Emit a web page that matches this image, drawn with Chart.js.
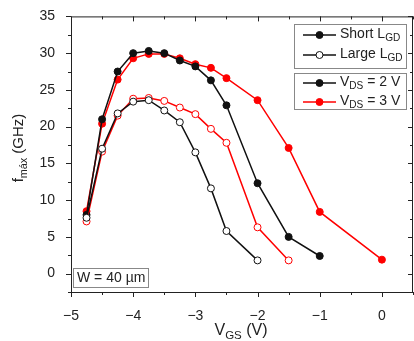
<!DOCTYPE html>
<html>
<head>
<meta charset="utf-8">
<script src="https://cdn.jsdelivr.net/npm/chart.js@4"></script>
<style>
  html, body { margin: 0; padding: 0; background: #fff; }
  #wrap { width: 414px; height: 341px; }
</style>
</head>
<body>
<div id="wrap"><canvas id="fmaxChart" width="414" height="341"></canvas></div>
<script>
// V_GS values (V)
const vgsShort2 = [-4.75, -4.5, -4.25, -4, -3.75, -3.5, -3.25, -3, -2.75, -2.5, -2, -1.5, -1];
const vgsShort3 = [-4.75, -4.5, -4.25, -4, -3.75, -3.5, -3.25, -3, -2.75, -2.5, -2, -1.5, -1, 0];
const vgsLarge2 = [-4.75, -4.5, -4.25, -4, -3.75, -3.5, -3.25, -3, -2.75, -2.5, -2];
const vgsLarge3 = [-4.75, -4.5, -4.25, -4, -3.75, -3.5, -3.25, -3, -2.75, -2.5, -2, -1.5];

// f_max values (GHz)
const fShort2 = [8.0, 21.0, 27.5, 30.0, 30.3, 30.0, 29.0, 28.2, 26.3, 22.9, 12.3, 5.0, 2.4];
const fShort3 = [8.5, 20.4, 26.4, 29.3, 29.9, 29.9, 29.3, 28.5, 28.0, 26.6, 23.6, 17.1, 8.4, 1.9];
const fLarge2 = [7.6, 17.0, 21.8, 23.4, 23.6, 22.2, 20.6, 16.5, 11.6, 5.8, 1.8];
const fLarge3 = [7.1, 16.6, 21.5, 23.8, 23.9, 23.5, 22.6, 21.7, 19.7, 17.8, 6.3, 1.8];

// axes
const xTicks = [-5, -4, -3, -2, -1, 0];
const xMinor = [-4.5, -3.5, -2.5, -1.5, -0.5, 0.5];
const yTicks = [0, 5, 10, 15, 20, 25, 30, 35];
const yMinor = [-2.5, 2.5, 7.5, 12.5, 17.5, 22.5, 27.5, 32.5];

const BLACK = "#111";
const RED = "#ff0000";
const FONT = "'Liberation Sans', Arial, sans-serif";

function pts(xs, ys) {
    return xs.map((x, i) => ({ x: x, y: ys[i] }));
}

function series(label, xs, ys, color, open) {
    return {
        label,
        data: pts(xs, ys),
        borderColor: color,
        backgroundColor: color,
        borderWidth: 1.5,
        pointRadius: 3.5,
        pointBorderWidth: 1,
        pointBackgroundColor: open ? "#fff" : color,
        pointBorderColor: color,
        tension: 0
    };
}

// draw text with subscripts: parts = [[text, isSub], ...]
function richText(ctx, parts, x, y, size, align) {
    ctx.textBaseline = "middle";
    ctx.textAlign = "left";
    let w = 0;
    parts.forEach(p => {
        ctx.font = (p[1] ? size * 0.72 : size) + "px " + FONT;
        w += ctx.measureText(p[0]).width;
    });
    let cx = align === "center" ? x - w / 2 : x;
    parts.forEach(p => {
        const s = p[1] ? size * 0.72 : size;
        ctx.font = s + "px " + FONT;
        ctx.fillText(p[0], cx, p[1] ? y + size * 0.32 : y);
        cx += ctx.measureText(p[0]).width;
    });
}

const decorations = {
    id: "decorations",
    afterDraw(chart) {
        const ctx = chart.ctx;
        const a = chart.chartArea;
        const xs = chart.scales.x, ys = chart.scales.y;
        ctx.save();

        // frame
        ctx.strokeStyle = "#222";
        ctx.lineWidth = 1;
        ctx.strokeRect(a.left + 0.5, a.top + 0.5, a.right - a.left - 1, a.bottom - a.top);

        // ticks (outward on bottom/left, inward on top/right)
        ctx.beginPath();
        const tick = (vals, len) => {
            vals.forEach(v => {
                const px = Math.round(xs.getPixelForValue(v)) + 0.5;
                if (px < a.left - 1 || px > a.right + 1) return;
                ctx.moveTo(px, a.bottom); ctx.lineTo(px, a.bottom + len);
                ctx.moveTo(px, a.top); ctx.lineTo(px, a.top + len);
            });
        };
        const tickY = (vals, len) => {
            vals.forEach(v => {
                const py = Math.round(ys.getPixelForValue(v)) + 0.5;
                ctx.moveTo(a.left, py); ctx.lineTo(a.left - len, py);
                ctx.moveTo(a.right, py); ctx.lineTo(a.right - len, py);
            });
        };
        tick(xTicks, 5); tick(xMinor, 3);
        tickY(yTicks, 5); tickY(yMinor, 3);
        ctx.stroke();

        // axis titles
        ctx.fillStyle = "#222";
        richText(ctx, [["V", false], ["GS", true], [" (V)", false]], 241, 331, 16, "center");
        ctx.save();
        ctx.translate(19, 148);
        ctx.rotate(-Math.PI / 2);
        richText(ctx, [["f", false], ["máx", true], [" (GHz)", false]], 0, 0, 15, "center");
        ctx.restore();

        // legend boxes
        ctx.strokeStyle = "#888";
        ctx.lineWidth = 1;
        ctx.strokeRect(294.5, 24.5, 112, 44);
        ctx.strokeRect(294.5, 73.5, 112, 36);
        ctx.strokeRect(73.5, 268.5, 75, 19);

        const rows = [
            { y: 35, color: BLACK, open: false, parts: [["Short L", false], ["GD", true]] },
            { y: 55, color: BLACK, open: true, parts: [["Large L", false], ["GD", true]] },
            { y: 83, color: BLACK, open: false, parts: [["V", false], ["DS", true], [" = 2 V", false]] },
            { y: 102, color: RED, open: false, parts: [["V", false], ["DS", true], [" = 3 V", false]] }
        ];
        rows.forEach(r => {
            ctx.strokeStyle = r.color;
            ctx.lineWidth = 1.5;
            ctx.beginPath();
            ctx.moveTo(303, r.y); ctx.lineTo(336, r.y);
            ctx.stroke();
            ctx.beginPath();
            ctx.arc(319.5, r.y, 3.5, 0, Math.PI * 2);
            ctx.fillStyle = r.open ? "#fff" : r.color;
            ctx.fill();
            ctx.lineWidth = 1;
            ctx.stroke();
            ctx.fillStyle = "#222";
            richText(ctx, r.parts, 340, r.y - 1, 14, "left");
        });

        ctx.fillStyle = "#222";
        ctx.font = "14px " + FONT;
        ctx.textBaseline = "middle";
        ctx.textAlign = "left";
        ctx.fillText("W = 40 µm", 77, 278);

        ctx.restore();
    }
};

const ctx = document.getElementById("fmaxChart").getContext("2d");

new Chart(ctx, {
    type: "line",
    data: {
        datasets: [
            series("Large LGD, VDS = 2 V", vgsLarge2, fLarge2, BLACK, true),
            series("Large LGD, VDS = 3 V", vgsLarge3, fLarge3, RED, true),
            series("Short LGD, VDS = 2 V", vgsShort2, fShort2, BLACK, false),
            series("Short LGD, VDS = 3 V", vgsShort3, fShort3, RED, false)
        ]
    },
    options: {
        responsive: false,
        animation: false,
        layout: { autoPadding: false, padding: { top: 15, right: 1, left: 0, bottom: 0 } },
        plugins: {
            legend: { display: false },
            tooltip: { enabled: false }
        },
        scales: {
            x: {
                type: "linear",
                min: -5,
                max: 0.5,
                grid: { display: false },
                border: { display: false },
                afterBuildTicks: s => { s.ticks = xTicks.map(v => ({ value: v })); },
                afterFit: s => { s.height = 49; s.paddingRight = 0; },
                ticks: {
                    padding: 8,
                    color: "#222",
                    font: { family: FONT, size: 14 },
                    maxRotation: 0,
                    callback: v => String(v).replace("-", "\u2212")
                }
            },
            y: {
                min: -2.5,
                max: 35,
                grid: { display: false },
                border: { display: false },
                afterBuildTicks: s => { s.ticks = yTicks.map(v => ({ value: v })); },
                afterFit: s => { s.width = 71; },
                ticks: {
                    padding: 8,
                    color: "#222",
                    font: { family: FONT, size: 14 }
                }
            }
        }
    },
    plugins: [decorations]
});
</script>
</body>
</html>
